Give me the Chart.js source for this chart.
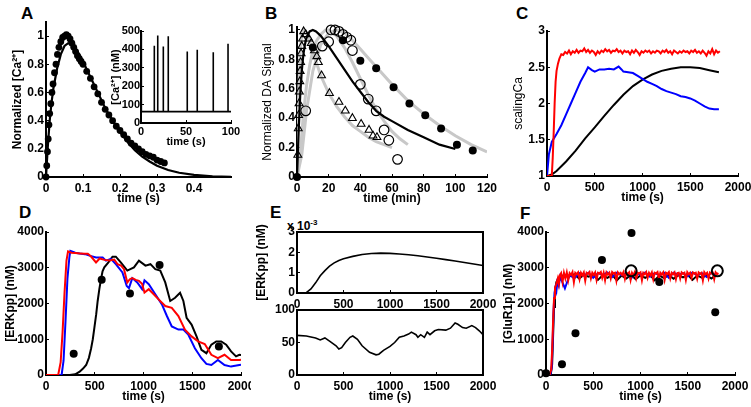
<!DOCTYPE html>
<html>
<head>
<meta charset="utf-8">
<script src="https://cdn.jsdelivr.net/npm/chart.js@4.4.1/dist/chart.umd.min.js"></script>
<style>
  body { margin: 0; background: #fff; }
  #fig { position: relative; width: 751px; height: 407px; overflow: hidden; font-family: "Liberation Sans", Arial, sans-serif; }
  #fig canvas { position: absolute; }
  .lbl { position: absolute; font-weight: bold; font-size: 17px; line-height: 20px; }
  .exp { position: absolute; font-weight: bold; font-size: 12px; line-height: 14px; }
  .exp sup { font-size: 8px; vertical-align: 5px; }
</style>
</head>
<body>
<div id="fig">
  <div class="lbl" style="left:21px;top:4px">A</div>
  <div class="lbl" style="left:265px;top:4px">B</div>
  <div class="lbl" style="left:516px;top:4px">C</div>
  <div class="lbl" style="left:19px;top:203px">D</div>
  <div class="lbl" style="left:270px;top:203px">E</div>
  <div class="lbl" style="left:520px;top:204px">F</div>
  <div class="exp" style="left:287px;top:216px">x 10<sup>-3</sup></div>
</div>
<script>
// panel A - normalized Ca transient
const aXTicks = [0, 0.1, 0.2, 0.3, 0.4];
const aYTicks = [0, 0.2, 0.4, 0.6, 0.8, 1];
const aFitT = [0, 0.005, 0.01, 0.015, 0.02, 0.03, 0.04, 0.05, 0.06, 0.07, 0.08, 0.09, 0.1, 0.12, 0.14, 0.16, 0.18, 0.2, 0.22, 0.24, 0.26, 0.28, 0.3, 0.33, 0.36, 0.4, 0.45, 0.5];
const aFitV = [0, 0.22, 0.4, 0.53, 0.63, 0.77, 0.87, 0.93, 0.95, 0.94, 0.91, 0.87, 0.82, 0.71, 0.6, 0.49, 0.4, 0.32, 0.25, 0.19, 0.145, 0.11, 0.08, 0.05, 0.03, 0.015, 0.005, 0.001];
const aDotT = [0, 0.002, 0.004, 0.006, 0.008, 0.01, 0.013, 0.016, 0.019, 0.023, 0.027, 0.031, 0.035, 0.04, 0.045, 0.05, 0.055, 0.06, 0.065, 0.07, 0.075, 0.08, 0.085, 0.09, 0.095, 0.1, 0.11, 0.12, 0.13, 0.14, 0.15, 0.16, 0.17, 0.18, 0.19, 0.2, 0.21, 0.22, 0.23, 0.24, 0.25, 0.26, 0.27, 0.28, 0.29, 0.3, 0.31, 0.32];
const aDotV = [0, 0.08, 0.18, 0.27, 0.37, 0.45, 0.52, 0.6, 0.66, 0.74, 0.8, 0.87, 0.92, 0.96, 0.99, 1.0, 1.01, 1.0, 0.98, 0.95, 0.92, 0.89, 0.86, 0.84, 0.82, 0.8, 0.75, 0.7, 0.64, 0.59, 0.53, 0.48, 0.44, 0.4, 0.36, 0.33, 0.3, 0.27, 0.24, 0.22, 0.2, 0.18, 0.16, 0.15, 0.14, 0.12, 0.11, 0.1];

// inset - Ca spikes (nM)
const insXTicks = [0, 50, 100];
const insYTicks = [0, 100, 200, 300, 400, 500];
const insBase = 62;
const insSpikeT = [0.4, 14.8, 18.6, 24.8, 30.3, 51.4, 62.5, 80.3, 96.7];
const insSpikeV = [488, 420, 476, 416, 471, 389, 398, 384, 431];

// panel B - DA signal
const bXTicks = [0, 20, 40, 60, 80, 100, 120];
const bYTicks = [0, 0.2, 0.4, 0.6, 0.8, 1];
const bFitT = [0, 1, 2, 3, 4, 5, 6, 8, 10, 12, 15, 20, 25, 30, 35, 40, 45, 50, 55, 60, 70, 80, 90, 100];
const bFitV = [0, 0.3, 0.55, 0.72, 0.83, 0.9, 0.95, 0.99, 1.0, 0.99, 0.96, 0.89, 0.81, 0.73, 0.65, 0.58, 0.51, 0.45, 0.41, 0.38, 0.32, 0.27, 0.22, 0.19];
const bG1T = [0, 1, 2, 3, 4, 6, 8, 10, 15, 20, 25, 30, 35, 40, 45, 50, 55, 60];
const bG1V = [0, 0.55, 0.85, 0.97, 1.0, 0.98, 0.92, 0.85, 0.69, 0.57, 0.48, 0.41, 0.35, 0.31, 0.27, 0.24, 0.22, 0.2];
const bG2T = [0, 2, 4, 6, 8, 10, 12, 15, 18, 20, 25, 30, 35, 40, 45, 50, 55, 60, 65, 70];
const bG2V = [0, 0.15, 0.42, 0.62, 0.76, 0.86, 0.92, 0.97, 1.0, 1.0, 0.96, 0.88, 0.78, 0.67, 0.56, 0.46, 0.38, 0.31, 0.26, 0.22];
const bG3T = [0, 3, 6, 10, 15, 20, 25, 30, 35, 40, 45, 50, 60, 70, 80, 90, 100, 110, 120];
const bG3V = [0, 0.15, 0.45, 0.72, 0.9, 0.98, 1.0, 0.98, 0.93, 0.87, 0.81, 0.75, 0.63, 0.52, 0.43, 0.35, 0.28, 0.22, 0.17];
const bTriT = [0.5, 0.8, 1.0, 1.3, 1.5, 1.8, 2.0, 2.3, 2.6, 3.0, 3.5, 4.2, 5.5, 7.5, 9, 11, 12.5, 13.5, 15.5, 20.5, 26.5, 30.5, 35, 40.5, 45.5, 48, 50.5];
const bTriV = [0.15, 0.33, 0.42, 0.5, 0.58, 0.65, 0.72, 0.78, 0.84, 0.89, 0.94, 0.99, 0.97, 0.94, 0.91, 0.86, 0.82, 0.78, 0.69, 0.57, 0.51, 0.45, 0.4, 0.36, 0.32, 0.28, 0.27];
const bOpenT = [5.5, 16, 20, 21.5, 24, 26.5, 29, 31.5, 34, 35, 40, 45, 50, 55, 58, 63.5];
const bOpenV = [0.45, 0.89, 0.92, 1.0, 1.0, 0.99, 0.97, 0.95, 0.93, 0.86, 0.63, 0.53, 0.45, 0.32, 0.25, 0.12];
const bFillT = [0, 10, 29, 40, 50, 61, 71, 81, 91, 101, 111];
const bFillV = [0, 0.88, 0.93, 0.79, 0.74, 0.61, 0.5, 0.42, 0.33, 0.22, 0.18];

// panel C - scalingCa
const cXTicks = [0, 500, 1000, 1500, 2000];
const cYTicks = [1, 1.5, 2, 2.5, 3];
const cRedT = [0, 50, 60, 70, 80, 90, 100, 115, 130, 150];
const cRedV = [1, 1, 1.25, 1.6, 2.0, 2.3, 2.45, 2.55, 2.62, 2.68];
const cRedNoiseStart = 170, cRedNoiseStep = 20;
const cRedNoise = [2.67, 2.71, 2.69, 2.73, 2.68, 2.72, 2.70, 2.74, 2.70, 2.73, 2.72, 2.76, 2.71, 2.74, 2.70, 2.73, 2.71, 2.67, 2.72, 2.69, 2.73, 2.71, 2.75, 2.72, 2.74, 2.70, 2.73, 2.72, 2.75, 2.71, 2.73, 2.69, 2.73, 2.71, 2.72, 2.68, 2.73, 2.70, 2.74, 2.71, 2.67, 2.72, 2.70, 2.73, 2.71, 2.73, 2.69, 2.72, 2.70, 2.73, 2.72, 2.69, 2.73, 2.71, 2.74, 2.70, 2.72, 2.68, 2.73, 2.71, 2.69, 2.72, 2.70, 2.73, 2.71, 2.72, 2.69, 2.73, 2.71, 2.74, 2.70, 2.72, 2.69, 2.73, 2.70, 2.66, 2.72, 2.69, 2.75, 2.68, 2.73, 2.70, 2.72];
const cBlueT = [0, 20, 50, 100, 150, 200, 250, 300, 350, 400, 430, 470, 500, 550, 600, 650, 700, 750, 780, 800, 850, 900, 950, 1000, 1050, 1100, 1150, 1200, 1250, 1300, 1350, 1400, 1450, 1500, 1550, 1600, 1650, 1700, 1750, 1800];
const cBlueV = [1, 1.3, 1.47, 1.58, 1.7, 1.85, 2.0, 2.15, 2.3, 2.42, 2.5, 2.46, 2.44, 2.47, 2.47, 2.48, 2.47, 2.51, 2.47, 2.44, 2.43, 2.42, 2.38, 2.34, 2.3, 2.27, 2.24, 2.2, 2.17, 2.15, 2.13, 2.1, 2.09, 2.07, 2.04, 2.0, 1.96, 1.93, 1.92, 1.92];
const cBlackT = [0, 50, 100, 200, 300, 400, 500, 600, 700, 800, 900, 1000, 1100, 1200, 1300, 1400, 1500, 1600, 1700, 1800];
const cBlackV = [1, 1.02, 1.07, 1.2, 1.35, 1.52, 1.67, 1.83, 1.98, 2.12, 2.24, 2.33, 2.4, 2.45, 2.48, 2.5, 2.5, 2.49, 2.46, 2.43];

// panel D - ERKpp
const dXTicks = [0, 500, 1000, 1500, 2000];
const dYTicks = [0, 1000, 2000, 3000, 4000];
const dRedT = [0, 125, 150, 170, 190, 210, 226, 260, 300, 350, 400, 429, 460, 513, 550, 600, 650, 700, 733, 770, 800, 834, 860, 885, 920, 953, 985, 1010, 1054, 1105, 1155, 1223, 1290, 1358, 1425, 1493, 1560, 1628, 1696, 1763, 1831, 1898, 1983, 2000];
const dRedV = [0, 0, 350, 1200, 2300, 3200, 3460, 3420, 3410, 3400, 3390, 3390, 3320, 3150, 3260, 3220, 3200, 3230, 3100, 3060, 2960, 2590, 2680, 2710, 2660, 2635, 2550, 2305, 2400, 2260, 2117, 1930, 1880, 1650, 1270, 1080, 940, 865, 565, 470, 565, 420, 420, 430];
const dBlueT = [0, 160, 180, 200, 220, 240, 250, 300, 345, 400, 446, 513, 581, 615, 666, 716, 784, 828, 851, 885, 936, 986, 1010, 1054, 1121, 1189, 1240, 1290, 1358, 1409, 1459, 1527, 1594, 1645, 1696, 1763, 1831, 1898, 1983, 2000];
const dBlueV = [0, 0, 400, 1500, 2700, 3300, 3470, 3420, 3400, 3380, 3340, 3290, 3290, 3200, 3250, 3100, 2870, 2490, 2430, 2710, 2590, 2400, 2650, 2540, 2260, 1975, 1650, 1360, 1270, 1270, 1130, 750, 470, 310, 280, 420, 280, 235, 280, 290];
const dBlackT = [0, 243, 300, 345, 380, 412, 440, 463, 480, 496, 515, 530, 547, 564, 580, 598, 640, 682, 716, 767, 834, 902, 953, 1020, 1071, 1121, 1172, 1223, 1274, 1324, 1375, 1409, 1442, 1493, 1544, 1594, 1645, 1696, 1746, 1797, 1848, 1898, 1949, 1983, 2000];
const dBlackV = [0, 0, 20, 94, 180, 280, 480, 750, 1000, 1320, 1700, 2070, 2400, 2680, 2900, 3010, 3150, 3310, 3310, 3150, 2920, 3010, 3200, 3060, 3100, 2960, 2920, 2590, 2070, 2160, 2300, 2070, 1600, 1410, 1080, 705, 610, 850, 940, 940, 850, 660, 520, 565, 560];
const dDotT = [284, 571, 861, 1165, 1773];
const dDotV = [593, 2663, 2277, 3077, 800];

// panel E - ERKpp, two subplots
const eXTicks = [0, 500, 1000, 1500, 2000];
const eTopYTicks = [0, 1, 2, 3];
const eBotYTicks = [0, 50, 100];
const eTopT = [0, 50, 100, 150, 200, 250, 300, 350, 400, 450, 500, 600, 700, 800, 900, 1000, 1100, 1200, 1300, 1400, 1500, 1600, 1700, 1800, 1900, 2000];
const eTopV = [0, 0, 0.02, 0.2, 0.5, 0.85, 1.1, 1.32, 1.48, 1.6, 1.68, 1.8, 1.89, 1.94, 1.96, 1.95, 1.92, 1.88, 1.83, 1.77, 1.71, 1.64, 1.57, 1.5, 1.43, 1.35];
const eBotT = [0, 100, 200, 250, 300, 350, 420, 450, 480, 520, 570, 600, 650, 700, 780, 850, 880, 930, 1000, 1050, 1100, 1150, 1200, 1230, 1280, 1300, 1330, 1370, 1400, 1430, 1480, 1520, 1600, 1650, 1700, 1730, 1780, 1820, 1880, 1920, 1960, 2000];
const eBotV = [61, 60, 57, 54, 57, 52, 45, 40, 42, 50, 58, 60, 55, 45, 35, 31, 32, 38, 44, 50, 58, 60, 63, 66, 62, 58, 62, 58, 66, 62, 68, 70, 69, 72, 80, 78, 73, 72, 76, 73, 68, 62];

// panel F - GluR1p
const fXTicks = [0, 500, 1000, 1500, 2000];
const fYTicks = [0, 1000, 2000, 3000, 4000];
const fRedT = [0, 40, 55, 65, 75, 85, 95, 105, 115, 125, 135, 145];
const fRedV = [0, 20, 150, 700, 1500, 2150, 2450, 2500, 2600, 2700, 2550, 2780];
const fRedNoiseStart = 160, fRedNoiseStep = 15;
const fRedNoise = [2850, 2600, 2860, 2700, 2870, 2650, 2850, 2800, 2880, 2600, 2860, 2820, 2870, 2680, 2860, 2790, 2870, 2640, 2860, 2830, 2880, 2700, 2860, 2800, 2870, 2660, 2860, 2840, 2880, 2720, 2860, 2650, 2870, 2810, 2860, 2700, 2880, 2840, 2860, 2640, 2870, 2820, 2860, 2800, 2880, 2690, 2860, 2830, 2870, 2660, 2860, 2790, 2880, 2700, 2860, 2840, 2870, 2650, 2860, 2820, 2880, 2720, 2860, 2790, 2870, 2680, 2860, 2840, 2880, 2700, 2860, 2810, 2870, 2660, 2860, 2830, 2880, 2700, 2860, 2820, 2870, 2680, 2850, 2860, 2700, 2870, 2830, 2860, 2660, 2880, 2820, 2860, 2720, 2870, 2840, 2860, 2690, 2870, 2830, 2860, 2650, 2880, 2820, 2860, 2700, 2870, 2840, 2860, 2680, 2870, 2820, 2850];
const fBlueT = [0, 45, 60, 70, 80, 90, 100, 110, 120, 135, 150];
const fBlueV = [0, 0, 200, 900, 1800, 2300, 2450, 2350, 2600, 2500, 2750];
const fBlueNoiseStart = 200, fBlueNoiseStep = 50;
const fBlueNoise = [2420, 2800, 2700, 2850, 2780, 2860, 2720, 2850, 2800, 2870, 2740, 2860, 2790, 2850, 2700, 2860, 2800, 2870, 2750, 2850, 2790, 2860, 2720, 2860, 2800, 2850, 2760, 2870, 2790, 2850, 2740, 2860, 2800];
const fBlackT = [0, 50, 65, 75, 85, 95, 110, 130, 150];
const fBlackV = [0, 0, 300, 1100, 1900, 2350, 2600, 2700, 2750];
const fBlackNoiseStart = 200, fBlackNoiseStep = 50;
const fBlackNoise = [2800, 2760, 2820, 2700, 2800, 2750, 2810, 2660, 2790, 2720, 2800, 2650, 2780, 2700, 2800, 2680, 2790, 2720, 2800, 2650, 2780, 2710, 2800, 2690, 2790, 2730, 2800, 2660, 2780, 2720, 2790, 2700, 2800];
const fDotT = [0, 169, 312, 592, 905, 1199, 1791];
const fDotV = [46, 304, 1168, 3220, 3972, 2602, 1757];
const fOpenT = [901, 1813];
const fOpenV = [2914, 2914];

// ---------------------------------------------------------------
const FAM = 'Liberation Sans';
const boldFont = { family: FAM, size: 12, weight: 'bold' };
const plainFont = { family: FAM, size: 12, weight: 'normal' };
const smallFont = { family: FAM, size: 11, weight: 'bold' };
const fig = document.getElementById('fig');

function pairs(xs, ys) { return xs.map((x, i) => ({ x: x, y: ys[i] })); }
function sampled(t0, dt, vs) { return vs.map((v, i) => ({ x: t0 + i * dt, y: v })); }
function fmt(v) { return String(Math.round(v * 1000) / 1000); }

function spikeTrain(ts, vs, base, tEnd) {
  const pts = [{ x: 0, y: base }];
  ts.forEach((t, i) => pts.push({ x: t, y: base }, { x: t, y: vs[i] }, { x: t, y: base }));
  pts.push({ x: tEnd, y: base });
  return pts;
}

function line(data, color, width) {
  return { data, showLine: true, borderColor: color, borderWidth: width, pointRadius: 0, tension: 0 };
}
function marks(data, style, radius, fill, bw) {
  return {
    data, showLine: false, pointStyle: style, pointRadius: radius,
    pointBackgroundColor: fill, pointBorderColor: '#000', pointBorderWidth: bw, clip: false
  };
}

function axis(o) {
  return {
    type: 'linear', min: o.min, max: o.max,
    afterBuildTicks: s => { s.ticks = o.ticks.map(v => ({ value: v })); },
    afterFit: s => {
      if (o.horiz) s.height = o.size; else s.width = o.size;
      s.paddingLeft = s.paddingRight = s.paddingTop = s.paddingBottom = 0;
    },
    grid: { drawOnChartArea: false, drawTicks: true, tickLength: -3, color: '#000', lineWidth: 1 },
    border: { color: '#000', width: 2 },
    ticks: {
      color: '#000', font: o.font || boldFont, padding: o.tickPad ?? (o.horiz ? 7 : 5),
      maxRotation: 0, autoSkip: false, callback: v => fmt(v)
    },
    title: {
      display: !!o.title, text: o.title, color: '#000', font: o.titleFont || boldFont,
      padding: { top: o.titlePad ?? 0, bottom: o.titlePad ?? 0 }
    }
  };
}

// full box around the plot area (panel E)
const frame = {
  id: 'frame',
  afterDraw(c) {
    const a = c.chartArea, ctx = c.ctx;
    ctx.save();
    ctx.strokeStyle = '#000';
    ctx.lineWidth = 2;
    ctx.strokeRect(a.left, a.top, a.right - a.left, a.bottom - a.top);
    ctx.restore();
  }
};

function panel(b, x, y, datasets, plugins) {
  const cv = document.createElement('canvas');
  const w = b.r - b.l + b.yw + b.pr, h = b.b - b.t + b.pt + b.xh;
  cv.width = w; cv.height = h;
  cv.style.left = (b.l - b.yw) + 'px';
  cv.style.top = (b.t - b.pt) + 'px';
  cv.style.width = w + 'px'; cv.style.height = h + 'px';
  fig.appendChild(cv);
  x.horiz = true; x.size = b.xh; y.size = b.yw;
  return new Chart(cv, {
    type: 'scatter',
    data: { datasets },
    options: {
      responsive: false, animation: false, devicePixelRatio: 1,
      layout: { padding: { top: b.pt, right: b.pr, left: 0, bottom: 0 } },
      plugins: { legend: { display: false }, tooltip: { enabled: false } },
      scales: { x: axis(x), y: axis(y) }
    },
    plugins: plugins || []
  });
}

// A
panel({ l: 46, t: 22, r: 231, b: 177, yw: 46, xh: 30, pt: 8, pr: 10 },
  { min: 0, max: 0.5, ticks: aXTicks, title: 'time (s)', titlePad: 1 },
  { min: 0, max: 1.1, ticks: aYTicks, title: 'Normalized [Ca²⁺]', titlePad: 10 },
  [
    marks(pairs(aDotT, aDotV), 'circle', 3.4, '#000', 0),
    line(pairs(aFitT, aFitV), '#000', 2.2)
  ]);

// A inset
panel({ l: 141, t: 31, r: 231, b: 123, yw: 32, xh: 27, pt: 7, pr: 10 },
  { min: 0, max: 100, ticks: insXTicks, title: 'time (s)', titlePad: 1, font: smallFont, titleFont: smallFont, tickPad: 5 },
  { min: 0, max: 500, ticks: insYTicks, title: '[Ca²⁺] (nM)', titlePad: 0, font: smallFont, titleFont: smallFont, tickPad: 4 },
  [line(spikeTrain(insSpikeT, insSpikeV, insBase, insXTicks[insXTicks.length - 1]), '#000', 1.6)]);

// B
panel({ l: 297, t: 27, r: 487, b: 177, yw: 47, xh: 30, pt: 8, pr: 12 },
  { min: 0, max: 120, ticks: bXTicks, title: 'time (min)', titlePad: 1 },
  { min: 0, max: 1.02, ticks: bYTicks, title: 'Normalized DA Signal', titlePad: 10, titleFont: plainFont },
  [
    marks(pairs(bFillT, bFillV), 'circle', 4, '#000', 0),
    marks(pairs(bOpenT, bOpenV), 'circle', 4.8, 'rgba(255,255,255,0)', 1.2),
    marks(pairs(bTriT, bTriV), 'triangle', 4.5, 'rgba(255,255,255,0)', 1.1),
    line(pairs(bFitT, bFitV), '#000', 2.2),
    line(pairs(bG1T, bG1V), '#c8c8c8', 3),
    line(pairs(bG2T, bG2V), '#c8c8c8', 3),
    line(pairs(bG3T, bG3V), '#c8c8c8', 3)
  ]);

// C
panel({ l: 547, t: 31, r: 738, b: 176, yw: 47, xh: 30, pt: 8, pr: 13 },
  { min: 0, max: 2000, ticks: cXTicks, title: 'time (s)', titlePad: 1 },
  { min: 1, max: 3, ticks: cYTicks, title: 'scalingCa', titlePad: 11, titleFont: plainFont },
  [
    line(pairs(cRedT, cRedV).concat(sampled(cRedNoiseStart, cRedNoiseStep, cRedNoise)), '#ff0000', 2),
    line(pairs(cBlueT, cBlueV), '#0000ff', 2),
    line(pairs(cBlackT, cBlackV), '#000', 2)
  ]);

// D
panel({ l: 46, t: 232, r: 241, b: 375, yw: 46, xh: 30, pt: 8, pr: 10 },
  { min: 0, max: 2000, ticks: dXTicks, title: 'time (s)', titlePad: 1 },
  { min: 0, max: 4000, ticks: dYTicks, title: '[ERKpp] (nM)', titlePad: 3 },
  [
    marks(pairs(dDotT, dDotV), 'circle', 4, '#000', 0),
    line(pairs(dRedT, dRedV), '#ff0000', 2),
    line(pairs(dBlueT, dBlueV), '#0000ff', 2),
    line(pairs(dBlackT, dBlackV), '#000', 2)
  ]);

// E top
panel({ l: 297, t: 232, r: 483, b: 293, yw: 47, xh: 17, pt: 8, pr: 14 },
  { min: 0, max: 2000, ticks: eXTicks },
  { min: 0, max: 3, ticks: eTopYTicks, title: '[ERKpp] (nM)', titlePad: 4 },
  [line(pairs(eTopT, eTopV), '#000', 1.6)], [frame]);

// E bottom
panel({ l: 297, t: 310, r: 483, b: 375, yw: 47, xh: 30, pt: 7, pr: 14 },
  { min: 0, max: 2000, ticks: eXTicks, title: 'time (s)', titlePad: 1 },
  { min: 0, max: 100, ticks: eBotYTicks },
  [line(pairs(eBotT, eBotV), '#000', 1.6)], [frame]);

// F
panel({ l: 546, t: 232, r: 735, b: 375, yw: 46, xh: 30, pt: 8, pr: 13 },
  { min: 0, max: 2000, ticks: fXTicks, title: 'time (s)', titlePad: 1 },
  { min: 0, max: 4000, ticks: fYTicks, title: '[GluR1p] (nM)', titlePad: 1 },
  [
    marks(pairs(fOpenT, fOpenV), 'circle', 5.5, 'rgba(255,255,255,0)', 2),
    marks(pairs(fDotT, fDotV), 'circle', 4, '#000', 0),
    line(pairs(fRedT, fRedV).concat(sampled(fRedNoiseStart, fRedNoiseStep, fRedNoise)), '#ff0000', 2),
    line(pairs(fBlueT, fBlueV).concat(sampled(fBlueNoiseStart, fBlueNoiseStep, fBlueNoise)), '#0000ff', 2),
    line(pairs(fBlackT, fBlackV).concat(sampled(fBlackNoiseStart, fBlackNoiseStep, fBlackNoise)), '#000', 2)
  ]);
</script>
</body>
</html>
